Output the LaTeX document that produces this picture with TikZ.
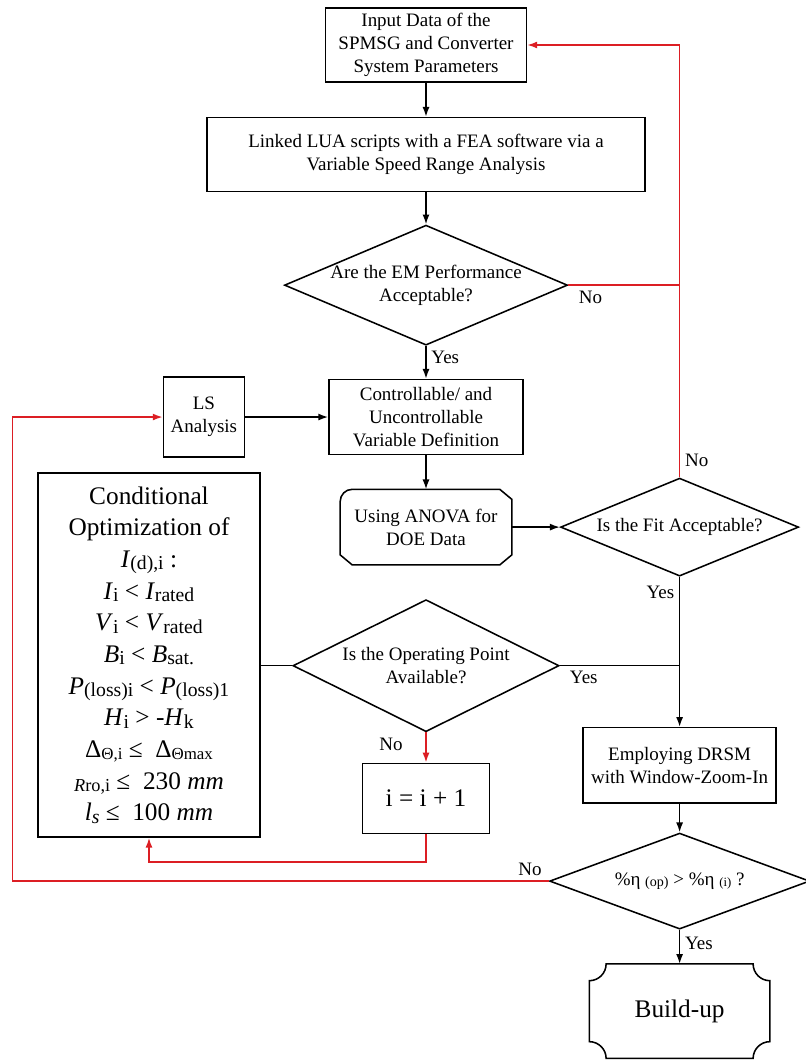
\documentclass[tikz,border=0pt]{standalone}
\usepackage{fontspec}
\setmainfont{Liberation Serif}
\usetikzlibrary{positioning, arrows.meta, shapes}

\definecolor{loopred}{RGB}{220,30,36}
\newcommand{\lo}[2][14]{\raisebox{-0.2ex}{\fontsize{#1}{#1}\selectfont #2}}

\begin{document}
\begin{tikzpicture}[x=0.025cm, y=-0.025cm, >={Latex[length=7pt, width=5pt]}, line width=1.1pt, auto,
    every node/.style={font=\fontsize{13.5}{16.3}\selectfont},
    block/.style={draw, rectangle, align=center, inner sep=2pt},
    decision/.style={draw, diamond, aspect=2.4, align=center, inner xsep=-1.6cm, inner ysep=0pt},
    datablock/.style={rectangle, align=center},
    endblock/.style={rectangle, align=center, font=\fontsize{18}{22}\selectfont},
    bigtext/.style={font=\fontsize{18}{22.5}\selectfont},
    back/.style={draw=loopred}]
  \useasboundingbox (0,0) rectangle (806,1064);

  \node[block, minimum width=5.025cm, minimum height=1.85cm] (input) at (426,45) {Input Data of the\\SPMSG and Converter\\System Parameters};
  \node[block, minimum width=10.95cm, minimum height=1.85cm] (lua) [below = 0.85cm of input] {Linked LUA scripts with a FEA software via a\\Variable Speed Range Analysis};
  \node[decision, minimum width=7.075cm, minimum height=3cm] (perf) [below = 0.8cm of lua] {Are the EM Performance\\Acceptable?};
  \node[block, minimum width=4.85cm, minimum height=1.875cm] (vars) [below = 0.82cm of perf] {Controllable/ and\\Uncontrollable\\Variable Definition};
  \node[block, minimum width=2.025cm, minimum height=2cm] (ls) [left = 2.075cm of vars] {LS\\Analysis};
  \node[datablock, minimum width=4.25cm, minimum height=1.85cm] (anova) [below = 0.85cm of vars] {Using ANOVA for\\DOE Data};
  \node[decision, minimum width=5.95cm, minimum height=2.45cm] (fit) [right = 1.2cm of anova] {Is the Fit Acceptable?};
  \node[decision, minimum width=6.65cm, minimum height=3.3cm] (oppoint) [below = 0.85cm of anova] {Is the Operating Point\\Available?};
  \node[block, bigtext, minimum width=3.175cm, minimum height=1.75cm] (incr) [below = 0.75cm of oppoint] {i = i + 1};
  \node[block, bigtext, minimum width=5.55cm, minimum height=9.1cm] (cond) at (149,655) {Conditional\\Optimization of\\
    \textit{I}\lo{(d),i} :\\
    \textit{I}\lo{i} < \textit{I}\lo{rated}\\
    \textit{V}\lo{i} < \textit{V}\lo{rated}\\
    \textit{B}\lo{i} < \textit{B}\lo{sat.}\\
    \textit{P}\lo{(loss)i} < \textit{P}\lo{(loss)1}\\
    \textit{H}\lo{i} > -\textit{H}\lo{k}\\
    Δ\lo[12]{Θ,i} ≤ \ Δ\lo[12]{Θmax}\\
    \lo[13]{\textit{R}ro,i} ≤ \ 230 \textit{mm}\\
    \textit{l\lo{s}} ≤ \ 100 \textit{mm}};
  \node[block, minimum width=4.825cm, minimum height=1.875cm] (drsm) [below = 3.75cm of fit] {Employing DRSM\\with Window-Zoom-In};
  \node[decision, minimum width=6.5cm, minimum height=2.4cm] (eff) [below = 0.72cm of drsm] {\%η \lo[10]{(op)} > \%η \lo[9]{(i)} ?};
  \node[endblock, minimum width=4.475cm, minimum height=2.325cm] (build) [below = 0.85cm of eff] {Build-up};

  \draw ([xshift=-0.3cm]anova.north east) -- ([yshift=-0.25cm]anova.north east) -- ([yshift=0.25cm]anova.south east)
    -- ([xshift=-0.3cm]anova.south east) -- ([xshift=0.3cm]anova.south west) -- ([yshift=0.25cm]anova.south west)
    -- ([yshift=-0.3cm]anova.north west) arc[start angle=180, end angle=90, radius=0.3cm] -- cycle;
  \draw ([xshift=0.42cm]build.north west) -- ([xshift=-0.42cm]build.north east) arc[start angle=180, end angle=270, radius=0.42cm]
    -- ([yshift=0.42cm]build.south east) arc[start angle=90, end angle=180, radius=0.42cm]
    -- ([xshift=0.42cm]build.south west) arc[start angle=0, end angle=90, radius=0.42cm]
    -- ([yshift=-0.42cm]build.north west) arc[start angle=270, end angle=360, radius=0.42cm] -- cycle;

  \path[->]
    (input) edge (lua)
    (lua) edge (perf)
    (perf) edge node[pos=0.35] {Yes} (vars)
    (ls) edge (vars)
    (vars) edge (anova)
    (anova) edge (fit)
    (fit) edge node[swap, pos=0.1] {Yes} (drsm)
    (drsm) edge (eff)
    (eff) edge node[pos=0.4] {Yes} (build)
  ;
  \draw (oppoint.east) -- node[swap, pos=0.2] {Yes} (oppoint.east -| fit.south);
  \draw (oppoint.west) -- (oppoint.west -| cond.east);

  \coordinate (lsloop) at ([xshift=-13.4cm]eff.west);
  \draw[back] (perf.east) -- node[swap, pos=0.2] {No} (perf.east -| fit.north);
  \draw[back, ->] (fit.north) -- node[swap, pos=0.04] {No} (fit.north |- input.east) -- (input.east);
  \draw[back, ->] (oppoint) -- node[left=0.45cm, pos=0.4] {No} (incr);
  \draw[back, ->] (incr.south) -- ++(0,28) -| (cond);
  \draw[back, ->] (eff.west) -- node[swap, pos=0.035] {No} (lsloop) |- (ls.west);
\end{tikzpicture}
\end{document}
